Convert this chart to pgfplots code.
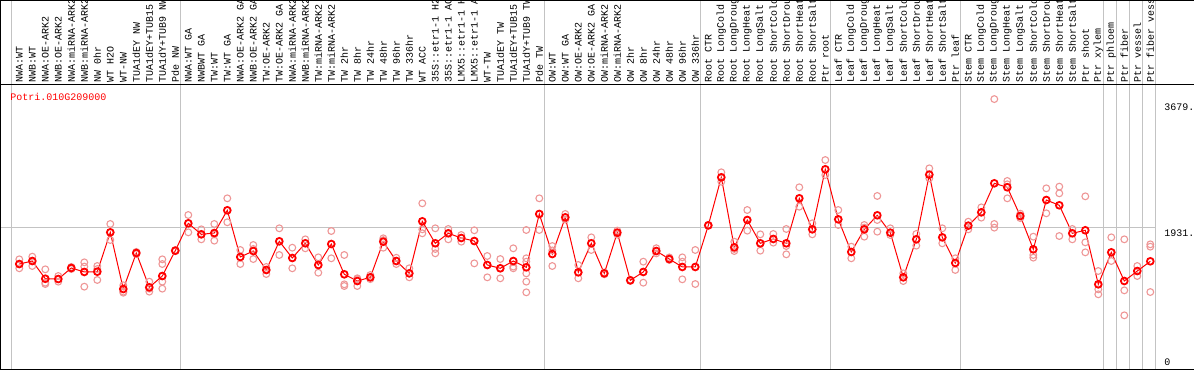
\documentclass[border=0pt]{standalone}
\usepackage{pgfplots}
\pgfplotsset{compat=1.18}
\usepackage{pgfplotstable}
\usepackage{fontspec}
\setmainfont{Liberation Mono}
\definecolor{rep}{RGB}{238,150,150}
\definecolor{sep}{RGB}{195,195,195}
\pgfplotstableread{
i v
1 1435
2 1476
3 1235
4 1231
5 1381
6 1327
7 1331
8 1866
9 1095
10 1585
11 1118
12 1272
13 1617
14 1989
15 1839
16 1857
17 2166
18 1531
19 1612
20 1354
21 1744
22 1517
23 1717
24 1422
25 1707
26 1295
27 1204
28 1254
29 1739
30 1476
31 1308
32 2016
33 1717
34 1853
35 1789
36 1748
37 1422
38 1377
39 1476
40 1390
41 2116
42 1571
43 2070
44 1322
45 1717
46 1308
47 1862
48 1213
49 1327
50 1612
51 1503
52 1395
53 1395
54 1961
55 2615
56 1662
57 2034
58 1717
59 1776
60 1717
61 2329
62 1907
63 2724
64 2043
65 1599
66 1907
67 2098
68 1862
69 1254
70 1771
71 2651
72 1798
73 1449
74 1957
75 2138
76 2533
77 2479
78 2088
79 1635
80 2306
81 2234
82 1853
83 1894
84 1159
85 1594
86 1204
87 1340
88 1472
}\means
\begin{document}
\begin{tikzpicture}
\useasboundingbox (0,0) rectangle (597pt,185pt);
\begin{axis}[
  at={(0,0)}, anchor=south west,
  scale only axis, width=597pt, height=142.5pt,
  xmin=-0.4846, xmax=91.3615, ymin=-6.8, ymax=3870.7,
  clip=false,
  axis line style={draw=none},
  major tick length=0pt,
  ytick=\empty,
  xtick={1,...,88},
  xticklabel pos=upper,
  xticklabels={NWA:WT,NWB:WT,NWA:OE-ARK2,NWB:OE-ARK2,NWA:miRNA-ARK2,NWB:miRNA-ARK2,NW 0hr,WT H2O,WT-NW,TUA1dEY NW,TUA1dEY+TUB15,TUA1dY+TUB9 NW,Pde NW,NWA:WT GA,NWBWT GA,TW:WT,TW:WT GA,NWA:OE-ARK2 GA,NWB:OE-ARK2 GA,TW:OE-ARK2,TW:OE-ARK2 GA,NWA:miRNA-ARK2,NWB:miRNA-ARK2,TW:miRNA-ARK2,TW:miRNA-ARK2,TW 2hr,TW 8hr,TW 24hr,TW 48hr,TW 96hr,TW 336hr,WT ACC,35S::etr1-1 H2,35S::etr1-1 AC,LMX5::etr1-1 H,LMX5::etr1-1 A,WT-TW,TUA1dEY TW,TUA1dEY+TUB15,TUA1dY+TUB9 TW,Pde TW,OW:WT,OW:WT GA,OW:OE-ARK2,OW:OE-ARK2 GA,OW:miRNA-ARK2,OW:miRNA-ARK2,OW 2hr,OW 8hr,OW 24hr,OW 48hr,OW 96hr,OW 336hr,Root CTR,Root LongCold,Root LongDroug,Root LongHeat,Root LongSalt,Root ShortCold,Root ShortDrou,Root ShortHeat,Root ShortSalt,Ptr root,Leaf CTR,Leaf LongCold,Leaf LongDroug,Leaf LongHeat,Leaf LongSalt,Leaf ShortCold,Leaf ShortDrou,Leaf ShortHeat,Leaf ShortSalt,Ptr leaf,Stem CTR,Stem LongCold,Stem LongDroug,Stem LongHeat,Stem LongSalt,Stem ShortCold,Stem ShortDrou,Stem ShortHeat,Stem ShortSalt,Ptr shoot,Ptr xylem,Ptr phloem,Ptr fiber,Ptr vessel,Ptr fiber vess},
  xticklabel style={rotate=90, anchor=west, inner sep=1pt, font=\fontsize{5}{6}\selectfont},
]
% separators
\pgfplotsinvokeforeach{0.38,13.38,41.38,53.38,63.38,73.38,84.38,85.38,86.38,87.38,88.4}{
  \draw[sep, line width=0.5pt] (axis cs:#1,0) -- (axis cs:#1,5027);
}
\draw[sep, line width=0.5pt] (axis cs:-0.41,1931) -- (axis cs:88.4,1931);
% frame
\draw[black, line width=0.5pt] (axis cs:-0.4846,5026.5) -- (axis cs:91.3615,5026.5);
\draw[black, line width=0.5pt] (rel axis cs:0,1) -- (rel axis cs:1,1);
\draw[black, line width=0.5pt] (axis cs:-0.4846,0) -- (axis cs:91.3615,0);
\draw[black, line width=0.5pt] (axis cs:-0.408,0) -- (axis cs:-0.408,5027);
% texts
\node[anchor=base west, inner sep=0pt, text=red, font=\fontsize{5}{6}\selectfont] at (axis cs:0.285,3660) {Potri.010G209000};
\node[anchor=base west, inner sep=0pt, font=\fontsize{5}{6}\selectfont] at (axis cs:89.05,3521) {3679.};
\node[anchor=base west, inner sep=0pt, font=\fontsize{5}{6}\selectfont] at (axis cs:89.05,1816) {1931.};
\node[anchor=base west, inner sep=0pt, font=\fontsize{5}{6}\selectfont] at (axis cs:89.05,52) {0};
% replicates
\addplot[only marks, mark=o, mark size=1.7pt, rep, mark options={line width=0.55pt}] coordinates {
(1,1499)(1,1377)(1,1435)
(2,1535)(2,1408)(2,1476)
(3,1363)(3,1181)(3,1163)
(4,1272)(4,1195)(4,1231)
(5,1395)(5,1367)(5,1381)
(6,1458)(6,1127)(6,1400)
(7,1408)(7,1218)(7,1367)
(8,1980)(8,1762)(8,1866)
(9,1146)(9,1059)(9,1045)
(10,1585)(10,1600)(10,1570)
(11,1195)(11,1059)(11,1100)
(12,1499)(12,1435)(12,1195)(12,1100)(12,1272)
(13,1617)(13,1610)(13,1625)
(14,2102)(14,1866)(14,1989)
(15,1907)(15,1771)(15,1839)
(16,1980)(16,1753)(16,1840)
(17,2329)(17,2003)(17,2166)
(18,1626)(18,1435)(18,1531)
(19,1694)(19,1503)(19,1640)
(20,1299)(20,1395)(20,1354)
(21,1921)(21,1558)(21,1744)
(22,1657)(22,1377)(22,1517)
(23,1771)(23,1649)(23,1717)
(24,1526)(24,1317)(24,1422)
(25,1884)(25,1513)(25,1707)
(26,1558)(26,1159)(26,1136)
(27,1241)(27,1136)(27,1230)
(28,1285)(28,1230)(28,1254)
(29,1785)(29,1657)(29,1760)
(30,1520)(30,1435)(30,1476)
(31,1377)(31,1254)(31,1308)
(32,2261)(32,1907)(32,1853)
(33,1921)(33,1581)(33,1640)
(34,1912)(34,1771)(34,1853)
(35,1830)(35,1739)(35,1789)
(36,1894)(36,1444)(36,1748)
(37,1544)(37,1254)(37,1422)
(38,1503)(38,1241)(38,1377)
(39,1649)(39,1377)(39,1400)
(40,1898)(40,1513)(40,1467)(40,1308)(40,1195)(40,1050)
(41,2329)(41,1898)(41,2116)
(42,1680)(42,1408)(42,1620)
(43,2116)(43,2040)(43,2070)
(44,1422)(44,1241)(44,1322)
(45,1798)(45,1626)(45,1717)
(46,1320)(46,1295)(46,1308)
(47,1890)(47,1835)(47,1862)
(48,1213)(48,1220)(48,1205)
(49,1467)(49,1181)(49,1327)
(50,1650)(50,1580)(50,1612)
(51,1525)(51,1490)(51,1503)
(52,1526)(52,1467)(52,1227)
(53,1626)(53,1163)(53,1395)
(54,1961)(54,1955)(54,1968)
(55,2683)(55,2555)(55,2615)
(56,1739)(56,1612)(56,1640)
(57,2170)(57,1889)(57,2034)
(58,1839)(58,1617)(58,1717)
(59,1844)(59,1726)(59,1776)
(60,1912)(60,1567)(60,1680)
(61,2479)(61,2215)(61,2329)
(62,1989)(62,1839)(62,1907)
(63,2850)(63,2646)(63,2724)
(64,2170)(64,1966)(64,2043)
(65,1671)(65,1513)(65,1599)
(66,1966)(66,1807)(66,1930)
(67,2361)(67,2034)(67,1875)
(68,1921)(68,1830)(68,1862)
(69,1308)(69,1204)(69,1254)
(70,1844)(70,1685)(70,1771)
(71,2737)(71,2601)(71,2651)
(72,1921)(72,1717)(72,1798)
(73,1513)(73,1354)(73,1449)
(74,2011)(74,1907)(74,1957)
(75,2206)(75,2066)(75,2138)
(76,3679)(76,1980)(76,1930)
(77,2565)(77,2329)(77,2520)
(78,2120)(78,2060)(78,2088)
(79,1807)(79,1558)(79,1522)
(80,2465)(80,2125)(80,2306)
(81,2488)(81,2397)(81,1816)
(82,1912)(82,1771)(82,1853)
(83,2356)(83,1730)(83,1594)
(84,1340)(84,1091)(84,1023)
(85,1798)(85,1476)(85,1594)
(86,1771)(86,1077)(86,737)
(87,1408)(87,1272)(87,1340)
(88,1703)(88,1671)(88,1054)
};
% means
\addplot[red, line width=0.5pt, mark=o, mark size=1.7pt, mark options={line width=0.9pt}] table[x=i, y=v] {\means};
\end{axis}
\end{tikzpicture}
\end{document}
